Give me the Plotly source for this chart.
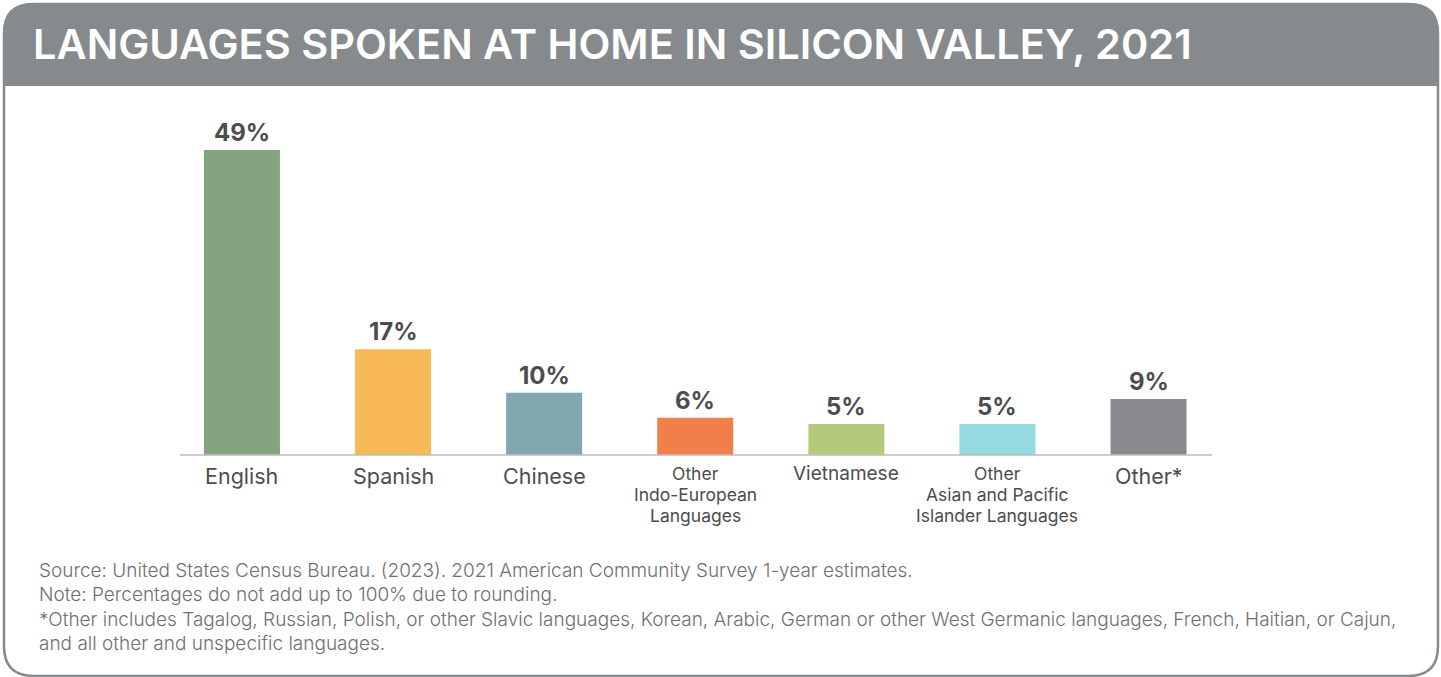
import plotly.graph_objects as go

# ---- data ----
categories = ["English", "Spanish", "Chinese", "Other Indo-European Languages",
              "Vietnamese", "Other Asian and Pacific Islander Languages", "Other*"]
tick_lines = [["English"], ["Spanish"], ["Chinese"],
              ["Other", "Indo-European", "Languages"],
              ["Vietnamese"],
              ["Other", "Asian and Pacific", "Islander Languages"],
              ["Other*"]]
shares = [49, 17, 10, 6, 5, 5, 9]
value_labels = ["49%", "17%", "10%", "6%", "5%", "5%", "9%"]
bar_colors = ["#83A47F", "#F7BA57", "#7FA9AF", "#F07F4A", "#B5C97B", "#96DAE1", "#8A898E"]

title_text = "LANGUAGES SPOKEN AT HOME IN SILICON VALLEY, 2021"
notes = [
    "Source: United States Census Bureau. (2023). 2021 American Community Survey 1-year estimates.",
    "Note: Percentages do not add up to 100% due to rounding.",
    "*Other includes Tagalog, Russian, Polish, or other Slavic languages, Korean, Arabic, German or other West Germanic languages, French, Haitian, or Cajun,",
    "and all other and unspecific languages.",
]

# ---- page geometry (pixels) ----
W, H = 1441, 677
PL, PR, PT, PB = 180, 1212, 100, 455   # plot area box
FONT = "Inter"
TEXT = "#4D4D4D"


def px(x):
    return (x - PL) / (PR - PL)


def py(y):
    return (PB - y) / (PB - PT)


def rounded_path(x0, y0, x1, y1, r, top_only=False):
    pts = []
    pts.append(f"M {px(x0)},{py(y0 + r)}")
    pts.append(f"Q {px(x0)},{py(y0)} {px(x0 + r)},{py(y0)}")
    pts.append(f"L {px(x1 - r)},{py(y0)}")
    pts.append(f"Q {px(x1)},{py(y0)} {px(x1)},{py(y0 + r)}")
    if top_only:
        pts.append(f"L {px(x1)},{py(y1)}")
        pts.append(f"L {px(x0)},{py(y1)}")
    else:
        pts.append(f"L {px(x1)},{py(y1 - r)}")
        pts.append(f"Q {px(x1)},{py(y1)} {px(x1 - r)},{py(y1)}")
        pts.append(f"L {px(x0 + r)},{py(y1)}")
        pts.append(f"Q {px(x0)},{py(y1)} {px(x0)},{py(y1 - r)}")
    pts.append("Z")
    return " ".join(pts)


fig = go.Figure(go.Bar(
    x=categories, y=shares, marker_color=bar_colors, marker_line_width=0,
    width=0.503, hoverinfo="skip",
))

annotations = []
for cat, val, lab in zip(categories, shares, value_labels):
    annotations.append(dict(
        x=cat, y=val, xref="x", yref="y", text=lab, showarrow=False,
        yanchor="bottom", yshift=1,
        font=dict(family=FONT, size=24, color=TEXT, weight=700),
    ))

# category labels below the baseline; multi-line ones use a smaller size
for cat, lines in zip(categories, tick_lines):
    if len(lines) > 1:
        size, centers = 17.5, [473, 494, 515]
    elif cat == "Vietnamese":
        size, centers = 19, [473]
    else:
        size, centers = 21.5, [476]
    for text, yc in zip(lines, centers):
        annotations.append(dict(
            x=cat, xref="x", yref="paper", y=py(yc), yanchor="middle",
            text=text, showarrow=False,
            font=dict(family=FONT, size=size, color=TEXT),
        ))

annotations.append(dict(
    x=px(31), y=py(44), xref="paper", yref="paper", xanchor="left", yanchor="middle",
    text=title_text, showarrow=False,
    font=dict(family=FONT, size=41.5, color="white", weight=600),
))

for line, yc in zip(notes, [570, 594, 619, 643]):
    annotations.append(dict(
        x=px(37), y=py(yc), xref="paper", yref="paper", xanchor="left", yanchor="middle",
        text=line, showarrow=False,
        font=dict(family=FONT, size=19, color="#707070", weight=300),
    ))

shapes = [
    dict(type="path", xref="paper", yref="paper", layer="below",
         path=rounded_path(3, 3, 1439, 86, 30, top_only=True),
         fillcolor="#878A8D", line=dict(width=0)),
    dict(type="path", xref="paper", yref="paper", layer="below",
         path=rounded_path(4, 4, 1438, 676, 30),
         fillcolor="rgba(0,0,0,0)", line=dict(color="#878A8D", width=2.5)),
    dict(type="line", xref="paper", yref="paper", x0=0, x1=1, y0=0, y1=0,
         line=dict(color="#BDBDBD", width=1.5)),
]

fig.update_layout(
    width=W, height=H,
    margin=dict(l=PL, r=W - PR, t=PT, b=H - PB),
    paper_bgcolor="white", plot_bgcolor="white",
    showlegend=False,
    xaxis=dict(range=[-0.41, 6.42], showticklabels=False, showgrid=False,
               zeroline=False, showline=False, ticks=""),
    yaxis=dict(range=[0, (PB - PT) / 6.224], showticklabels=False, showgrid=False,
               zeroline=False, showline=False, ticks=""),
    annotations=annotations,
    shapes=shapes,
)

fig.write_html("out.html", config={"displayModeBar": False})
